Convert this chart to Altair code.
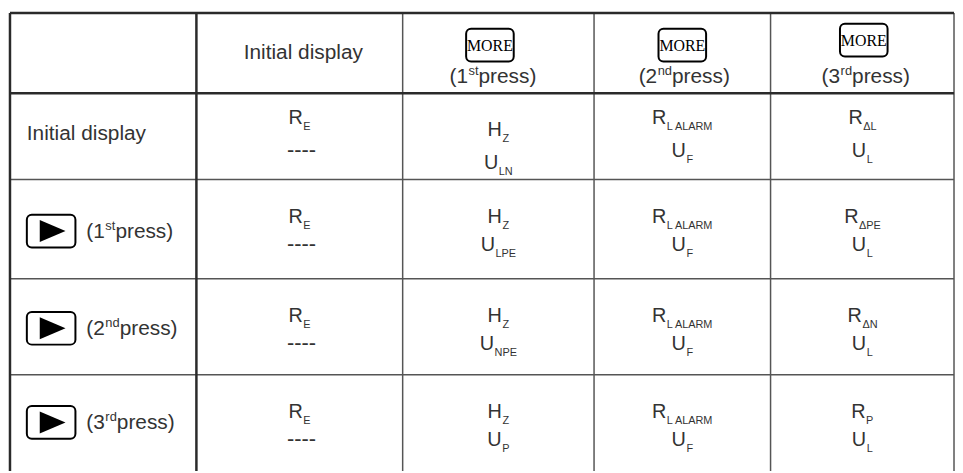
import altair as alt
import pandas as pd

# ---------------- content ----------------
header_first = "Initial display"
header_button = ["MORE", "MORE", "MORE"]
press_num = ["1", "2", "3"]
press_sup = ["st", "nd", "rd"]
press_word = "press)"
row_first = "Initial display"

line1_main = [["R", "H", "R", "R"],
              ["R", "H", "R", "R"],
              ["R", "H", "R", "R"],
              ["R", "H", "R", "R"]]
line1_sub = [["E", "Z", "L ALARM", "ΔL"],
             ["E", "Z", "L ALARM", "ΔPE"],
             ["E", "Z", "L ALARM", "ΔN"],
             ["E", "Z", "L ALARM", "P"]]
line2_main = [["----", "U", "U", "U"],
              ["----", "U", "U", "U"],
              ["----", "U", "U", "U"],
              ["----", "U", "U", "U"]]
line2_sub = [["", "LN", "F", "L"],
             ["", "LPE", "F", "L"],
             ["", "NPE", "F", "L"],
             ["", "P", "F", "L"]]

# ---------------- layout (page pixel coordinates) ----------------
COL_EDGES = [10, 198, 406, 599, 777, 962]
ROW_EDGES = [11, 92, 179, 279, 376, 473]
TEXT = "#333333"
SANS = "Liberation Sans"
SERIF = "Liberation Serif"
MAIN, SUB, LABEL, SUP, DASH = 20, 11, 21, 13, 22

W = {'R': 722, 'H': 722, 'U': 722, 'E': 667, 'Z': 611, 'L': 556, ' ': 200,
     'A': 667, 'M': 833, 'Δ': 612, 'P': 667, 'N': 722, 'F': 611, '-': 333,
     '(': 333, ')': 333, '1': 556, '2': 556, '3': 556, 's': 500, 't': 278,
     'n': 556, 'd': 556, 'r': 333, 'p': 556, 'e': 556, 'I': 278, 'i': 222,
     'a': 556, 'l': 222, 'y': 500}


def tw(s, size):
    return sum(W.get(c, 556) for c in s) * size / 1000.0


texts = []  # x (left), y (baseline), text, size


def add(x, y, t, size):
    if t:
        texts.append({"x": x, "y": y, "text": t, "size": size})


def add_press(x_left, base, i):
    add(x_left, base, "(" + press_num[i], LABEL)
    xs = x_left + tw("(" + press_num[i], LABEL)
    add(xs + 0.5, base - 8, press_sup[i], SUP)
    xp = xs + 0.5 + tw(press_sup[i], SUP)
    add(xp, base, press_word, LABEL)


def press_width(i):
    return tw("(" + press_num[i], LABEL) + 0.5 + tw(press_sup[i], SUP) + tw(press_word, LABEL)


# header row
c1 = (COL_EDGES[1] + COL_EDGES[2]) / 2
add(c1 - tw(header_first, LABEL) / 2 + 3, 57, header_first, LABEL)
HEADER_CX = [497, 690, 873]
for i in range(3):
    add_press(HEADER_CX[i] - press_width(i) / 2, 82, i)

BOX_CX = [494, 688, 871]
BOX_CY = [43.5, 43.5, 38.5]
more_boxes = pd.DataFrame({
    "x": [cx - 24 for cx in BOX_CX], "x2": [cx + 24 for cx in BOX_CX],
    "y": [cy - 16.5 for cy in BOX_CY], "y2": [cy + 16.5 for cy in BOX_CY]})
more_text = pd.DataFrame({"x": BOX_CX, "y": [cy + 6 for cy in BOX_CY], "text": header_button})

# row labels
add(27, 139, row_first, LABEL)
ARROW_CY = [231, 329, 424]
for i in range(3):
    add_press(87, ARROW_CY[i] + 7, i)
arrow_boxes = pd.DataFrame({
    "x": [27] * 3, "x2": [76] * 3,
    "y": [cy - 16.5 for cy in ARROW_CY], "y2": [cy + 16.5 for cy in ARROW_CY]})
arrow_pts = pd.DataFrame({"x": [53] * 3, "y": ARROW_CY})

# data cells
for r in range(4):
    top = ROW_EDGES[r + 1]
    for c in range(4):
        cx = (COL_EDGES[c + 1] + COL_EDGES[c + 2]) / 2
        if r == 0:
            b1, b2 = (135, 168) if c == 1 else (123, 156)
        else:
            b1, b2 = top + 44, top + 72
        for m, s, b in ((line1_main[r][c], line1_sub[r][c], b1),
                        (line2_main[r][c], line2_sub[r][c], b2)):
            if m == "----":
                add(cx - tw(m, DASH) / 2 + 2, b, m, DASH)
                continue
            total = tw(m, MAIN) + (0.5 + tw(s, SUB) if s else 0)
            x0 = cx - total / 2
            add(x0, b, m, MAIN)
            add(x0 + tw(m, MAIN) + 0.5, b + 6, s, SUB)

text_df = pd.DataFrame(texts)

# grid lines
thick = pd.DataFrame([
    {"x": COL_EDGES[0], "x2": COL_EDGES[-1], "y": ROW_EDGES[0], "y2": ROW_EDGES[0]},
    {"x": COL_EDGES[0], "x2": COL_EDGES[-1], "y": ROW_EDGES[1], "y2": ROW_EDGES[1]},
    {"x": COL_EDGES[0], "x2": COL_EDGES[0], "y": ROW_EDGES[0], "y2": ROW_EDGES[-1]},
    {"x": COL_EDGES[1], "x2": COL_EDGES[1], "y": ROW_EDGES[0], "y2": ROW_EDGES[-1]},
])
thin_rows = [{"x": COL_EDGES[0], "x2": COL_EDGES[-1], "y": y, "y2": y} for y in ROW_EDGES[2:-1]]
thin_cols = [{"x": x, "x2": x, "y": ROW_EDGES[0], "y2": ROW_EDGES[-1]} for x in COL_EDGES[2:]]
thin = pd.DataFrame(thin_rows + thin_cols)

XS = alt.Scale(domain=[8, 963], nice=False, zero=False)
YS = alt.Scale(domain=[8, 473], nice=False, zero=False, reverse=True)


def X(f="x"):
    return alt.X(f + ":Q", scale=XS, axis=None)


def Y(f="y"):
    return alt.Y(f + ":Q", scale=YS, axis=None)


thin_layer = alt.Chart(thin).mark_rule(color="#555555", strokeWidth=1.5).encode(
    x=X(), x2="x2:Q", y=Y(), y2="y2:Q")
thick_layer = alt.Chart(thick).mark_rule(color="#2a2a2a", strokeWidth=2.5).encode(
    x=X(), x2="x2:Q", y=Y(), y2="y2:Q")

box_style = dict(fill="white", stroke="black", strokeWidth=2, cornerRadius=5)
more_box_layer = alt.Chart(more_boxes).mark_rect(**box_style).encode(
    x=X(), x2="x2:Q", y=Y(), y2="y2:Q")
arrow_box_layer = alt.Chart(arrow_boxes).mark_rect(**box_style).encode(
    x=X(), x2="x2:Q", y=Y(), y2="y2:Q")
arrow_layer = alt.Chart(arrow_pts).mark_point(
    shape="M -1 -0.85 L 1 0 L -1 0.85 Z", filled=True, color="black", opacity=1, size=676
).encode(x=X(), y=Y())
more_text_layer = alt.Chart(more_text).mark_text(
    font=SERIF, fontSize=16, color="black", align="center", baseline="alphabetic"
).encode(x=X(), y=Y(), text="text:N")
text_layer = alt.Chart(text_df).mark_text(
    font=SANS, color=TEXT, align="left", baseline="alphabetic"
).encode(x=X(), y=Y(), text="text:N", size=alt.Size("size:Q", scale=None))

chart = alt.layer(
    thin_layer, thick_layer, more_box_layer, arrow_box_layer, arrow_layer,
    more_text_layer, text_layer
).properties(
    width=955, height=465, autosize=alt.AutoSizeParams(type="none"), padding=0
).configure_view(strokeWidth=0)

chart.save("out.html", embed_options={"renderer": "svg", "actions": False})
